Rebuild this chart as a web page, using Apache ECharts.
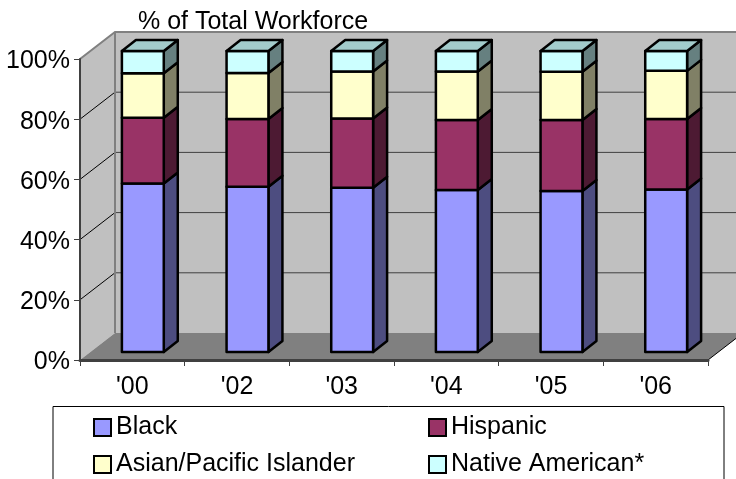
<!DOCTYPE html>
<html>
<head>
<meta charset="utf-8">
<style>
  html, body { margin: 0; padding: 0; background: #fff; }
  #main { width: 736px; height: 479px; }
</style>
<script src="https://cdn.jsdelivr.net/npm/echarts@6/dist/echarts.min.js"></script>
</head>
<body>
<div id="main"></div>
<script>
var categories = ["'00", "'02", "'03", "'04", "'05", "'06"]
var black = [56.0, 54.9, 54.6, 53.8, 53.5, 54.0]
var hispanic = [21.8, 22.5, 23.0, 23.3, 23.6, 23.4]
var asian = [14.8, 15.3, 15.6, 16.1, 16.0, 16.0]
var nativeAm = [7.4, 7.3, 6.8, 6.8, 6.9, 6.6]
var yTicks = [0, 20, 40, 60, 80, 100]

var fontName = '"Liberation Sans", Arial, sans-serif'
var seriesDefs = [
  { name: 'Black', values: black, front: '#9999ff', side: '#4d4d80', top: '#7a7acc' },
  { name: 'Hispanic', values: hispanic, front: '#993366', side: '#4d1a33', top: '#7a2952' },
  { name: 'Asian/Pacific Islander', values: asian, front: '#ffffcc', side: '#808066', top: '#cccca3' },
  { name: 'Native American*', values: nativeAm, front: '#ccffff', side: '#668080', top: '#a3cccc' }
]

// depth of the 3d box, as a share of one category width
var wallDx = 35 / 104.67
var wallDy = 27 / 104.67
var barDx = 10.5 / 104.67
var barDy = 8 / 104.67
var barShare = 0.4
var barDepthX = 14 / 104.67
var barDepthY = 11 / 104.67

function renderWalls(params, api) {
  var cs = params.coordSys
  var cw = api.size([1, 0])[0]
  var dx = cw * wallDx
  var dy = cw * wallDy
  var l = cs.x
  var r = cs.x + cs.width
  var top = api.coord([0, 100])[1]
  var bot = api.coord([0, 0])[1]
  var kids = [
    { type: 'polygon', shape: { points: [[l, bot], [l, top], [l + dx, top - dy], [l + dx, bot - dy]] }, style: { fill: '#c0c0c0' } },
    { type: 'polygon', shape: { points: [[l + dx, bot - dy], [l + dx, top - dy], [r + dx, top - dy], [r + dx, bot - dy]] }, style: { fill: '#c0c0c0' } }
  ]
  yTicks.slice(1, 5).forEach(function(v) {
    var y = api.coord([0, v])[1]
    kids.push({ type: 'polyline', shape: { points: [[l, y], [l + dx, y - dy]] }, style: { fill: null, stroke: '#000', lineWidth: 1 } })
    kids.push({ type: 'line', shape: { x1: l + dx, y1: y - dy, x2: r + dx, y2: y - dy }, style: { stroke: '#404040', lineWidth: 1 } })
  })
  kids.push({ type: 'polygon', shape: { points: [[l, bot], [l + dx, bot - dy], [r + dx, bot - dy], [r, bot]] }, style: { fill: '#808080' } })
  kids.push({ type: 'line', shape: { x1: r, y1: bot, x2: r + dx, y2: bot - dy }, style: { stroke: '#000', lineWidth: 1 } })
  kids.push({ type: 'polyline', shape: { points: [[l, top], [l + dx, top - dy], [r + dx, top - dy]] }, style: { fill: null, stroke: '#808080', lineWidth: 2 } })
  kids.push({ type: 'line', shape: { x1: l + dx, y1: top - dy, x2: l + dx, y2: bot - dy }, style: { stroke: '#808080', lineWidth: 2 } })
  return { type: 'group', children: kids }
}

function stackBase(idx, i) {
  var sum = 0
  for (var k = 0; k < idx; k++) sum += seriesDefs[k].values[i]
  return sum
}

function makeBarRender(idx) {
  var def = seriesDefs[idx]
  return function(params, api) {
    var i = api.value(0)
    var v = api.value(1)
    var base = stackBase(idx, i)
    var cw = api.size([1, 0])[0]
    var p0 = api.coord([i, base])
    var p1 = api.coord([i, base + v])
    var w = cw * barShare
    var x0 = p0[0] + cw * barDx - w / 2
    var x1 = x0 + w
    var yb = p0[1] - cw * barDy
    var yt = p1[1] - cw * barDy
    var ddx = cw * barDepthX
    var ddy = cw * barDepthY
    var line = { stroke: '#000', lineWidth: 2.5, lineJoin: 'round' }
    var kids = [
      { type: 'polygon', shape: { points: [[x1, yb], [x1 + ddx, yb - ddy], [x1 + ddx, yt - ddy], [x1, yt]] }, style: Object.assign({ fill: def.side }, line) },
      { type: 'polygon', shape: { points: [[x0, yb], [x1, yb], [x1, yt], [x0, yt]] }, style: Object.assign({ fill: def.front }, line) }
    ]
    if (idx === seriesDefs.length - 1) {
      kids.push({ type: 'polygon', shape: { points: [[x0, yt], [x1, yt], [x1 + ddx, yt - ddy], [x0 + ddx, yt - ddy]] }, style: Object.assign({ fill: def.top }, line) })
    }
    return { type: 'group', children: kids }
  }
}

var series = [{
  type: 'custom',
  name: 'walls',
  z: 1,
  silent: true,
  renderItem: renderWalls,
  data: [[0, 0]],
  encode: { x: 0, y: 1 }
}]
seriesDefs.forEach(function(def, idx) {
  series.push({
    type: 'custom',
    name: def.name,
    z: 6,
    itemStyle: { color: def.front },
    renderItem: makeBarRender(idx),
    encode: { x: 0, y: 1 },
    data: def.values.map(function(v, i) { return [i, v] })
  })
})

function legendCol(names, left) {
  return {
    data: names,
    orient: 'vertical',
    left: left,
    top: 413,
    padding: 0,
    itemGap: 8,
    itemWidth: 17,
    itemHeight: 17,
    icon: 'rect',
    selectedMode: false,
    itemStyle: { borderColor: '#000', borderWidth: 2 },
    textStyle: { fontFamily: fontName, fontSize: 25, lineHeight: 25, color: '#000', padding: [4, 0, 0, 0] }
  }
}

var chart = echarts.init(document.getElementById('main'), null, { renderer: 'canvas' })
chart.setOption({
  animation: false,
  backgroundColor: '#fff',
  textStyle: { fontFamily: fontName },
  title: {
    text: '% of Total Workforce',
    left: 138,
    top: 10,
    padding: 0,
    textStyle: { fontFamily: fontName, fontSize: 25, fontWeight: 'normal', color: '#000' }
  },
  grid: { left: 80, right: 28, top: 59, height: 301 },
  xAxis: {
    type: 'category',
    data: categories,
    z: 5,
    axisLine: { lineStyle: { color: '#404040', width: 3 } },
    axisTick: { show: true, alignWithLabel: false, length: 6, lineStyle: { color: '#404040', width: 1 } },
    axisLabel: { fontFamily: fontName, fontSize: 25, color: '#000', margin: 15 }
  },
  yAxis: {
    type: 'value',
    min: 0,
    max: 100,
    interval: 20,
    z: 5,
    axisLine: { show: true, lineStyle: { color: '#404040', width: 2 } },
    axisTick: { show: true, length: 6, lineStyle: { color: '#404040', width: 1 } },
    splitLine: { show: false },
    axisLabel: {
      margin: 10,
      formatter: '{t|{value}%}',
      rich: { t: { fontFamily: fontName, fontSize: 25, lineHeight: 25, color: '#000', padding: [5, 0, 0, 0] } }
    }
  },
  legend: [
    legendCol(['Black', 'Asian/Pacific Islander'], 93),
    legendCol(['Hispanic', 'Native American*'], 428)
  ],
  graphic: [{
    type: 'rect',
    silent: true,
    shape: { x: 53, y: 406.5, width: 671, height: 90 },
    style: { fill: '#fff', stroke: '#000', lineWidth: 1 },
    z: -1
  }],
  series: series
})
</script>
</body>
</html>
